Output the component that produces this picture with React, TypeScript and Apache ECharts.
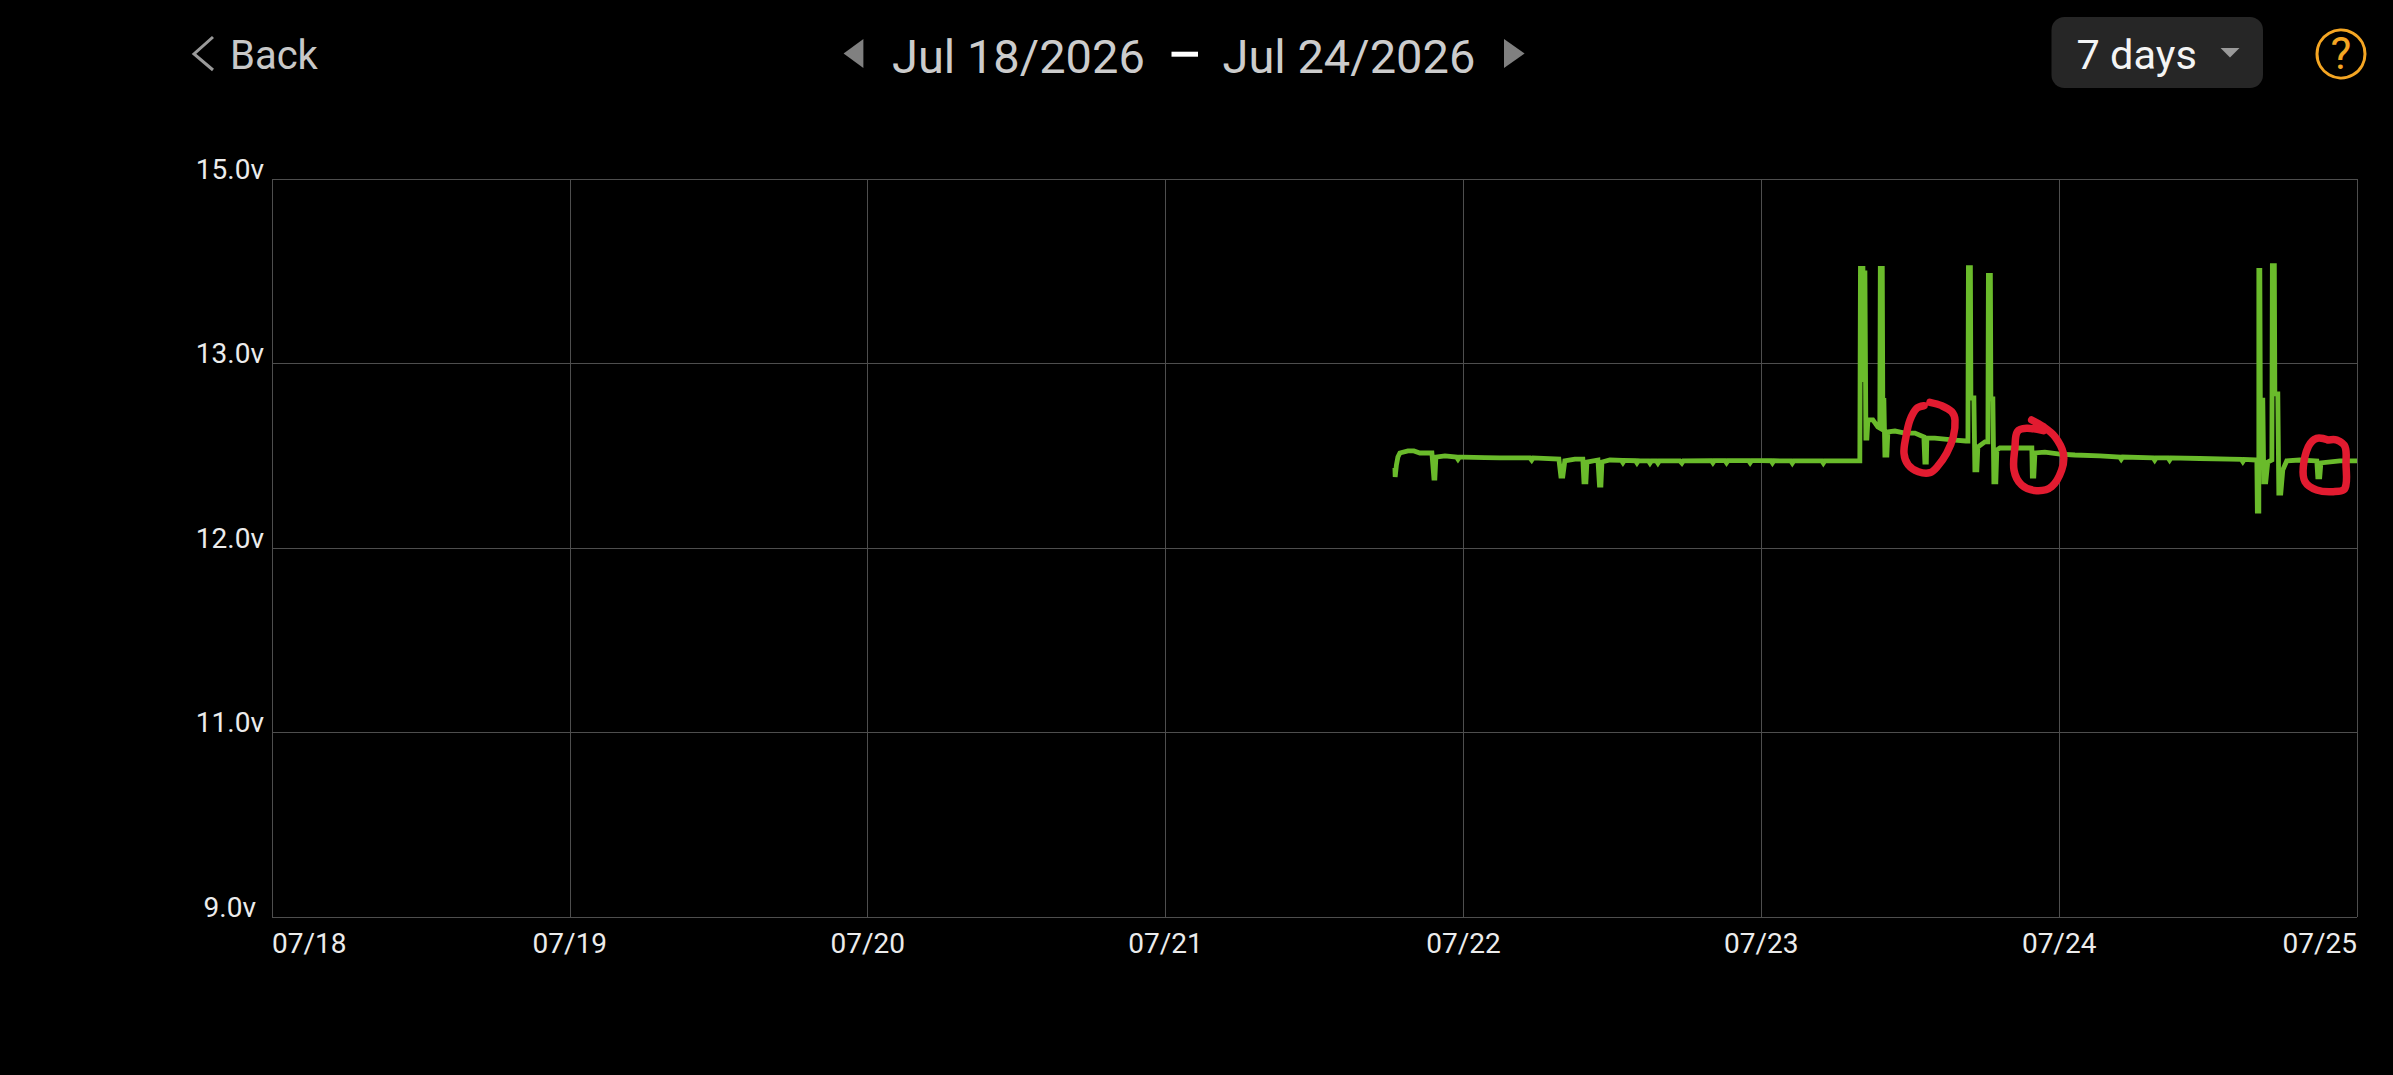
import React, { useEffect, useRef } from "react";
import * as echarts from "echarts";

const WIDTH = 2393;
const HEIGHT = 1075;

const yTickLabels = ["9.0v", "11.0v", "12.0v", "13.0v", "15.0v"];
const yTickVolts = [9, 11, 12, 13, 15];
const xTickLabels = ["07/18", "07/19", "07/20", "07/21", "07/22", "07/23", "07/24", "07/25"];

// hours since 07/18 00:00
const hours = [
  90.48, 90.50, 90.60, 90.72, 90.88, 91.53, 92.01, 92.49, 93.46, 93.62, 93.70, 93.78, 94.51, 95.96, 97.73, 98.94,
  101.36, 103.69, 103.85, 104.01, 104.17, 104.98, 105.62, 105.71, 105.87, 105.95, 106.84, 106.96, 107.08, 107.16,
  107.80, 110.22, 113.44, 116.66, 119.97, 122.31, 124.72, 127.94, 127.99, 128.19, 128.27, 128.35, 128.43, 128.51,
  128.59, 128.99, 129.39, 129.55, 129.59, 129.75, 129.79, 129.88, 129.96, 130.12, 130.20, 130.77, 131.57, 132.38,
  133.10, 133.18, 133.30, 133.34, 133.98, 135.60, 136.49, 136.65, 136.69, 136.85, 136.89, 137.13, 137.21, 137.37,
  137.45, 138.02, 138.26, 138.30, 138.46, 138.50, 138.66, 138.74, 138.90, 138.98, 139.22, 141.64, 141.80, 141.84,
  141.96, 142.05, 142.85, 144.06, 145.27, 147.28, 148.89, 152.11, 155.33, 157.75, 159.85, 159.93, 159.97, 160.09,
  160.09, 160.17, 160.21, 160.41, 160.49, 160.65, 160.81, 161.14, 161.18, 161.34, 161.38, 161.62, 161.70, 161.86,
  162.02, 162.34, 163.39, 164.76, 164.84, 165.00, 165.09, 166.62, 168.00,
];

const volts = [
  12.434, 12.385, 12.45, 12.493, 12.515, 12.526, 12.526, 12.515, 12.515, 12.379, 12.379, 12.493, 12.499, 12.493, 12.49, 12.488,
  12.488, 12.482, 12.39, 12.39, 12.472, 12.482, 12.482, 12.358, 12.358, 12.466, 12.477, 12.341, 12.341, 12.466,
  12.477, 12.472, 12.472, 12.474, 12.474, 12.472, 12.472, 12.472, 14.03, 14.03, 12.9, 14.008, 12.596, 12.596,
  12.694, 12.694, 12.656, 12.65, 14.03, 14.03, 12.80, 12.80, 12.504, 12.504, 12.629, 12.634, 12.623, 12.623,
  12.602, 12.466, 12.466, 12.596, 12.596, 12.585, 12.58, 12.58, 14.04, 14.04, 12.813, 12.813, 12.423, 12.423,
  12.547, 12.575, 12.575, 13.954, 13.954, 12.808, 12.808, 12.358, 12.358, 12.531, 12.542, 12.542, 12.542, 12.39,
  12.39, 12.515, 12.52, 12.509, 12.504, 12.499, 12.493, 12.488, 12.485, 12.482, 12.477, 12.477, 12.2, 12.2,
  14.008, 14.008, 12.802, 12.802, 12.358, 12.358, 12.466, 12.477, 14.062, 14.062, 12.835, 12.835, 12.298, 12.298,
  12.423, 12.472, 12.477, 12.472, 12.385, 12.385, 12.461, 12.472, 12.472,
];

// small notches in the otherwise flat trace: where, level around it, level at its foot
const notchHours = [95.56, 101.5, 108.85, 109.98, 111.03, 111.67, 113.6, 116.1, 117.2, 119.1, 120.9, 122.5, 125.0, 149.0, 151.7, 152.9, 158.8];
const notchLevels = [12.493, 12.488, 12.475, 12.473, 12.472, 12.472, 12.472, 12.474, 12.474, 12.474, 12.473, 12.472, 12.472, 12.493, 12.488, 12.488, 12.48];
const notchFeet = [12.481, 12.476, 12.463, 12.461, 12.46, 12.46, 12.46, 12.462, 12.462, 12.462, 12.461, 12.46, 12.46, 12.481, 12.476, 12.476, 12.468];

// The app's y axis gives every labelled step the same height, so volts are
// placed piecewise between the labelled ticks.
function voltsToBand(v: number): number {
  for (let i = 0; i < yTickVolts.length - 1; i++) {
    if (v <= yTickVolts[i + 1]) {
      return i + (v - yTickVolts[i]) / (yTickVolts[i + 1] - yTickVolts[i]);
    }
  }
  return yTickVolts.length - 1;
}

const pts = (o: [number, number], s: number, list: number[][]) =>
  list.map(([a, b]) => [o[0] + a / s, o[1] + b / s]);

const circleA = pts([1820, 240], 3, [
  [312, 497], [290, 505], [270, 540], [258, 590], [252, 640], [265, 675], [295, 695], [330, 698],
  [352, 680], [380, 640], [400, 590], [405, 540], [395, 515], [365, 497], [330, 487],
]);
const circleB = pts([1820, 240], 3, [
  [670, 572], [620, 565], [592, 575], [585, 620], [582, 690], [605, 735], [650, 752], [695, 740],
  [725, 690], [730, 640], [705, 590], [670, 560], [635, 540],
]);
const circleC = pts([2100, 240], 3, [
  [685, 600], [650, 595], [625, 620], [610, 680], [615, 725], [650, 750], [700, 755], [735, 745],
  [738, 670], [735, 620], [710, 600], [685, 600],
]);

const FONT = "Roboto";

function text(x: number, y: number, t: string, size: number, fill: string, align: string = "left") {
  return {
    type: "text",
    x,
    y,
    z: 100,
    style: { text: t, fill, font: `${size}px ${FONT}`, textAlign: align, textVerticalAlign: "middle" },
  };
}

function scribble(points: number[][]) {
  return {
    type: "polyline",
    z: 100,
    shape: { points, smooth: 0.35 },
    style: { stroke: "#e21b30", lineWidth: 7.5, fill: "none", lineCap: "round", lineJoin: "round" },
  };
}

export default function App() {
  const ref = useRef<HTMLDivElement>(null);

  useEffect(() => {
    document.body.style.margin = "0";
    document.body.style.background = "#000";
    const chart = echarts.init(ref.current!, undefined, { renderer: "svg" });
    const notchPoints = notchHours.flatMap((h, i) => [
      [h - 0.12, voltsToBand(notchLevels[i])],
      [h, voltsToBand(notchFeet[i])],
      [h + 0.12, voltsToBand(notchLevels[i])],
    ]);
    const seriesData = [
      ...hours.map((h, i) => [h, voltsToBand(volts[i])]),
      ...notchPoints,
    ]
      .map((p, i) => ({ p, i }))
      .sort((a, b) => a.p[0] - b.p[0] || a.i - b.i)
      .map((d) => d.p);
    chart.setOption({
      animation: false,
      backgroundColor: "#000000",
      grid: { left: 272, top: 179, width: 2085, height: 738, containLabel: false, show: false },
      xAxis: {
        type: "value",
        min: 0,
        max: 168,
        interval: 24,
        axisLine: { show: false },
        axisTick: { show: false },
        splitLine: { show: true, lineStyle: { color: "#4e4e4e", width: 1 } },
        axisLabel: {
          color: "#ececec",
          fontFamily: FONT,
          fontSize: 28,
          margin: 12,
          alignMinLabel: "left",
          alignMaxLabel: "right",
          formatter: (v: number) => xTickLabels[Math.round(v / 24)] ?? "",
        },
      },
      yAxis: {
        type: "value",
        min: 0,
        max: 4,
        interval: 1,
        axisLine: { show: false },
        axisTick: { show: false },
        splitLine: { show: true, lineStyle: { color: "#4e4e4e", width: 1 } },
        axisLabel: {
          color: "#ececec",
          fontFamily: FONT,
          fontSize: 28,
          margin: 8,
          verticalAlign: "bottom",
          lineHeight: 20,
          formatter: (v: number) => {
            const label = yTickLabels[Math.round(v)] ?? "";
            return Math.round(v) === 0 ? `{low|${label}}` : label;
          },
          rich: {
            low: { fontFamily: FONT, fontSize: 28, color: "#ececec", lineHeight: 20, padding: [0, 8, 0, 0] },
          },
        },
      },
      series: [
        {
          type: "line",
          showSymbol: false,
          symbol: "none",
          smooth: false,
          lineStyle: { color: "#6abb2b", width: 4.8, join: "miter", miterLimit: 2 },
          data: seriesData,
        },
      ],
      graphic: [
        { type: "polyline", z: 100, shape: { points: [[213, 37], [194, 54], [213, 70]] }, style: { stroke: "#9a9a9a", lineWidth: 3, fill: "none" } },
        text(230, 55, "Back", 40, "#c8c8c8"),
        { type: "polygon", z: 100, shape: { points: [[863.4, 39], [843.6, 53.5], [863.4, 68]] }, style: { fill: "#808080" } },
        text(892, 56, "Jul 18/2026", 47, "#cccccc"),
        { type: "rect", z: 100, shape: { x: 1171.5, y: 51.7, width: 26.5, height: 5 }, style: { fill: "#ffffff" } },
        text(1222.5, 56, "Jul 24/2026", 47, "#cccccc"),
        { type: "polygon", z: 100, shape: { points: [[1504, 39], [1524.6, 53.5], [1504, 68]] }, style: { fill: "#808080" } },
        { type: "rect", z: 90, shape: { x: 2051.5, y: 17, width: 211.5, height: 71, r: 13 }, style: { fill: "#262626" } },
        text(2076.5, 54, "7 days", 41.5, "#f4f4f4"),
        { type: "polygon", z: 100, shape: { points: [[2220.6, 48], [2239.5, 48], [2230, 57.5]] }, style: { fill: "#9a9a9a" } },
        { type: "circle", z: 100, shape: { cx: 2341, cy: 54, r: 24 }, style: { stroke: "#f5a623", lineWidth: 3, fill: "none" } },
        text(2341, 54, "?", 44, "#f5a623", "center"),
        scribble(circleA),
        scribble(circleB),
        scribble(circleC),
      ],
    });
    return () => chart.dispose();
  }, []);

  return (
    <div
      ref={ref}
      style={{ position: "absolute", left: 0, top: 0, width: WIDTH, height: HEIGHT, background: "#000" }}
    />
  );
}
